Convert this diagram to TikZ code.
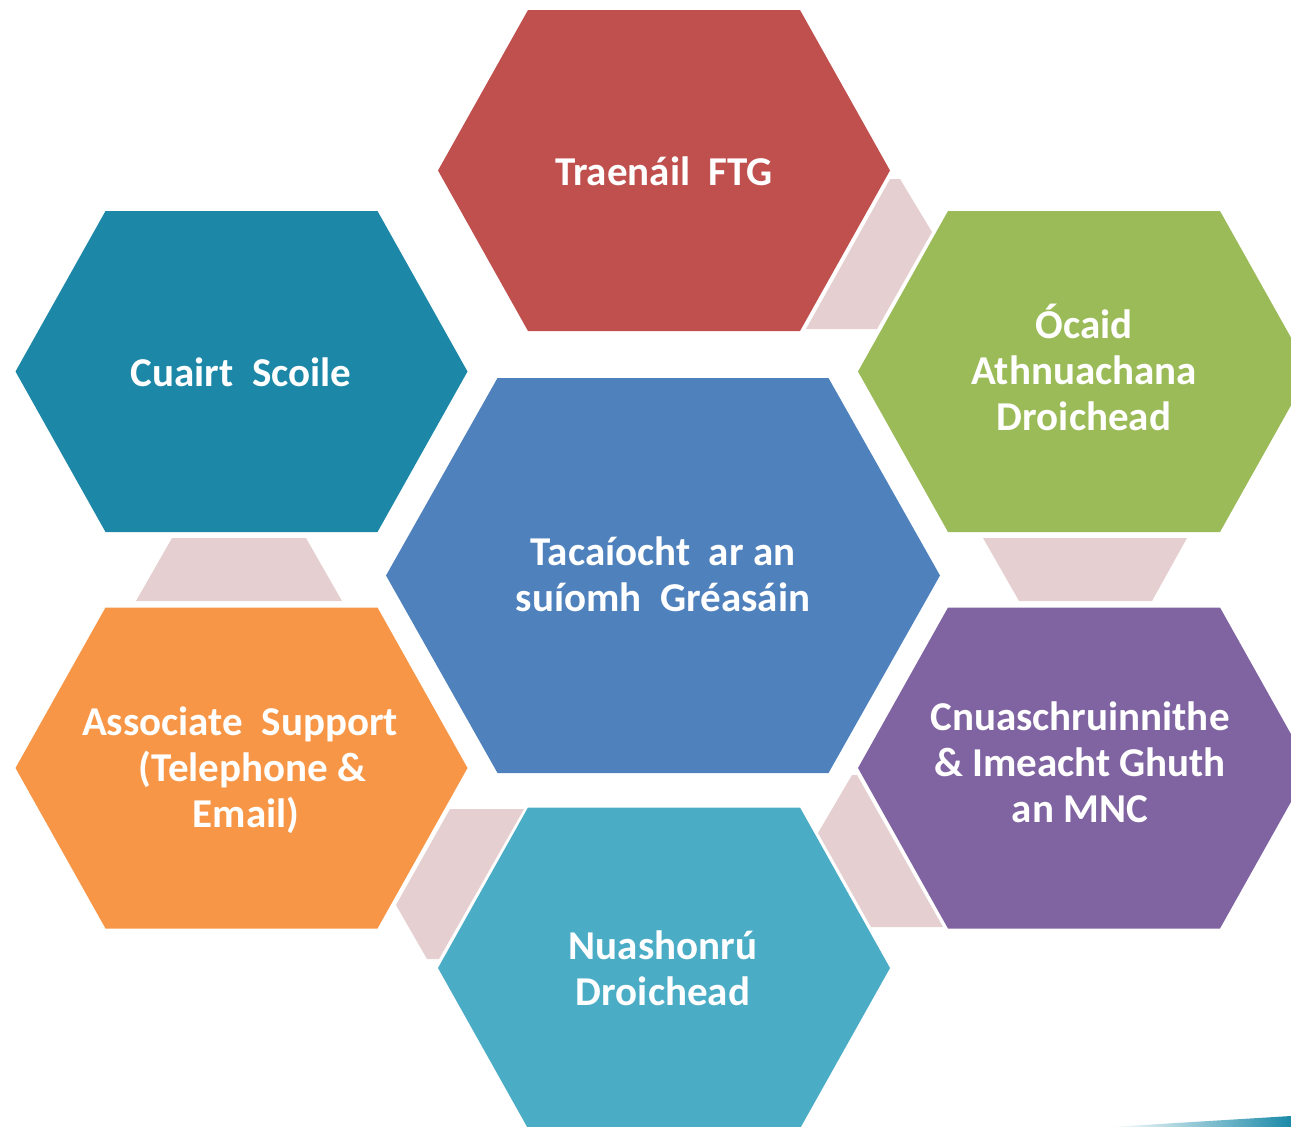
\documentclass[tikz,border=0pt]{standalone}
\usepackage{fontspec}
\setmainfont{Carlito}
\usetikzlibrary{calc}
\definecolor{hred}{HTML}{C0504D}
\definecolor{hgreen}{HTML}{9BBB59}
\definecolor{hteal}{HTML}{1C87A7}
\definecolor{horange}{HTML}{F79646}
\definecolor{hpurple}{HTML}{8064A2}
\definecolor{hlblue}{HTML}{4BACC6}
\definecolor{hblue}{HTML}{4F81BD}
\definecolor{hpink}{HTML}{E6CFD0}
\definecolor{stripe}{HTML}{1A8AA8}
\tikzset{
  hexlabel/.style={text=white, font=\bfseries\fontsize{41}{46}\selectfont, align=center, inner sep=0pt},
  linkpiece/.style={fill=hpink, draw=none},
}
% \HexCell{cx}{cy}{half width}{half top width}{half height}{colour}
\newcommand\HexCell[6]{%
  \fill[#6] (#1-#3,#2) -- (#1-#4,#2-#5) -- (#1+#4,#2-#5) -- (#1+#3,#2)
    -- (#1+#4,#2+#5) -- (#1-#4,#2+#5) -- cycle;}
\begin{document}
\begin{tikzpicture}[x=1pt,y=-1pt]
\useasboundingbox (0,0) rectangle (1291,1127);
\clip (0,0) rectangle (1291,1127);
% connector pieces
\fill[linkpiece] (806,329) -- (890,179) -- (900,179) -- (932,232) -- (877,329) -- cycle;
\fill[linkpiece] (172,538) -- (306,538) -- (342,601) -- (136,601) -- cycle;
\fill[linkpiece] (983,538) -- (1187,538) -- (1152,601) -- (1019,601) -- cycle;
\fill[linkpiece] (818,833) -- (852,775) -- (857,775) -- (943,927) -- (871,927) -- cycle;
\fill[linkpiece] (450,809) -- (524,809) -- (439,959) -- (427,959) -- (396,905) -- cycle;
% hexagons
\HexCell{664}{170.5}{226}{136}{160.5}{hred}
\HexCell{241.5}{371.5}{226}{136}{160.5}{hteal}
\HexCell{1084}{371.5}{226}{136}{160.5}{hgreen}
\HexCell{241.5}{768}{226}{136}{160.5}{horange}
\HexCell{1084}{768}{226}{136}{160.5}{hpurple}
\HexCell{664}{968}{226}{136}{160.5}{hlblue}
\HexCell{663}{575.5}{277}{165.5}{197.5}{hblue}
% slide stripe
\shade[left color=white, right color=stripe] (1110,1127) -- (1291,1116) -- (1291,1127) -- cycle;
% labels
\node[hexlabel] (ftg) at (664,171) {Traenáil~ FTG};
\node[hexlabel] (scoil) at (241,372) {Cuairt~ Scoile};
\node[hexlabel] (ocaid) at (1084,367) {Ócaid\\Athnuachana\\Droichead};
\node[hexlabel] (web) at (663,574) {Tacaíocht~ ar an\\suíomh~ Gréasáin};
\node[hexlabel] (assoc) at (240,770) {Associate~ Support\\\hspace*{0.6em}(Telephone \&\\\hspace*{0.3em}Email)};
\node[hexlabel] (mnc) at (1080,762) {Cnuaschruinnithe\\\& Imeacht Ghuth\\an MNC};
\node[hexlabel] (nua) at (663,968) {Nuashonrú\\Droichead};
\end{tikzpicture}
\end{document}
